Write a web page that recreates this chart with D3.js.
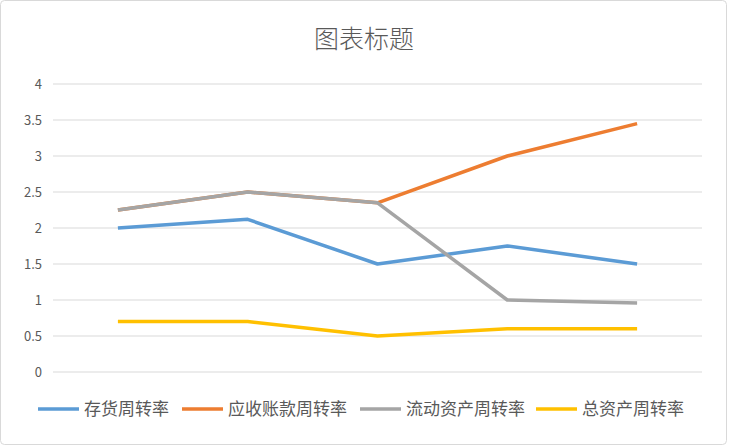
<!DOCTYPE html>
<html><head><meta charset="utf-8">
<script src="https://cdn.jsdelivr.net/npm/d3@7"></script>
<style>body{margin:0;background:#fff}</style>
</head><body>
<svg id="chart" width="730" height="448"></svg>
<script>
// Chart data
const categories = ['1', '2', '3', '4', '5'];
const inventoryTurnover = [2.0, 2.12, 1.5, 1.75, 1.5];
const receivableTurnover = [2.25, 2.5, 2.35, 3.0, 3.45];
const currentAssetTurnover = [2.25, 2.5, 2.35, 1.0, 0.96];
const totalAssetTurnover = [0.7, 0.7, 0.5, 0.6, 0.6];
const yTicks = [0, 0.5, 1, 1.5, 2, 2.5, 3, 3.5, 4];

const series = [
  { name: '存货周转率', values: inventoryTurnover, color: '#5b9bd5' },
  { name: '应收账款周转率', values: receivableTurnover, color: '#ed7d31' },
  { name: '流动资产周转率', values: currentAssetTurnover, color: '#a5a5a5' },
  { name: '总资产周转率', values: totalAssetTurnover, color: '#ffc000' }
];

const font = '"Noto Sans CJK SC", "Microsoft YaHei", sans-serif';
const svg = d3.select('#chart');

// Outer frame
svg.append('rect')
  .attr('x', 0.5).attr('y', 0.5).attr('width', 726).attr('height', 444)
  .attr('rx', 4).attr('fill', '#fff').attr('stroke', '#d9d9d9');

// Title
svg.append('text')
  .attr('x', 364).attr('y', 48)
  .attr('text-anchor', 'middle')
  .style('font-family', font).style('font-size', '25px').style('font-weight', 300)
  .attr('fill', '#595959')
  .text('图表标题');

const xScale = d3.scaleBand().domain(categories).range([53, 702]);
const yScale = d3.scaleLinear().domain([0, 4]).range([372, 84]);

// Gridlines
svg.append('g').selectAll('line')
  .data(yTicks).enter().append('line')
  .attr('x1', 53).attr('x2', 702)
  .attr('y1', d => yScale(d)).attr('y2', d => yScale(d))
  .attr('stroke', '#d9d9d9').attr('stroke-width', 1);

// Y axis labels
svg.append('g').selectAll('text')
  .data(yTicks).enter().append('text')
  .attr('x', 42).attr('y', d => yScale(d) + 5)
  .attr('text-anchor', 'end')
  .style('font-family', font).style('font-size', '13px')
  .attr('fill', '#595959')
  .text(d => d);

// Lines
const line = d3.line()
  .x((d, i) => xScale(categories[i]) + xScale.bandwidth() / 2)
  .y(d => yScale(d));

svg.append('g').selectAll('path')
  .data(series).enter().append('path')
  .attr('d', d => line(d.values))
  .attr('fill', 'none')
  .attr('stroke', d => d.color)
  .attr('stroke-width', 3.5)
  .attr('stroke-linejoin', 'round');

// Legend
const legendX = [38, 182, 360, 536];
const legend = svg.append('g').selectAll('g')
  .data(series).enter().append('g')
  .attr('transform', (d, i) => `translate(${legendX[i]}, 409)`);

legend.append('line')
  .attr('x1', 0).attr('x2', 41)
  .attr('stroke', d => d.color).attr('stroke-width', 3.5);

legend.append('text')
  .attr('x', 46).attr('y', 6)
  .style('font-family', font).style('font-size', '17px')
  .attr('fill', '#595959')
  .text(d => d.name);
</script>
</body></html>
